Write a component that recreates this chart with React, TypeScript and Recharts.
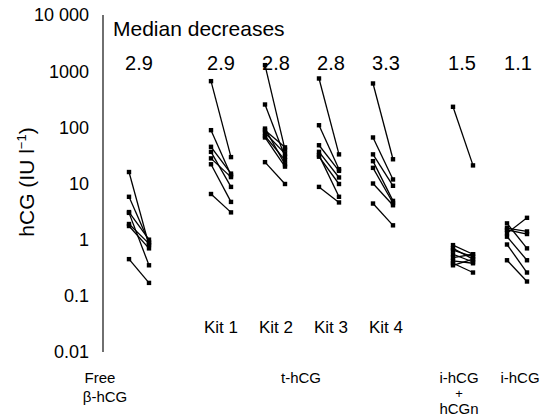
import React from "react";
import { ComposedChart, Line, XAxis, YAxis } from "recharts";

// x position of each group (before point); after point sits one unit right
const groupX = [1.3, 5.4, 8.1, 10.8, 13.5, 17.5, 20.2];
const groupNames = ["Free β-hCG", "Kit 1", "Kit 2", "Kit 3", "Kit 4", "i-hCG + hCGn", "i-hCG"];
const medianDecreases = ["2.9", "2.9", "2.8", "2.8", "3.3", "1.5", "1.1"];
const yTicks = [0.01, 0.1, 1, 10, 100, 1000, 10000];

// [before, after] pairs, IU/l
const freeBeta = [[16, 0.8], [5.8, 0.9], [3.1, 1.0], [3.0, 0.35], [1.9, 0.85], [1.75, 0.7], [0.45, 0.17]];
const kit1 = [[664, 29.5], [89, 14], [45, 15], [36.6, 8.7], [28, 13], [22, 4.7], [6.5, 3.06]];
const kit2 = [[1280, 40], [255, 30], [95, 22], [89, 44], [80, 34], [70, 26], [66, 20], [24, 9.8]];
const kit3 = [[741, 33], [109, 18], [48, 16.8], [36.6, 12.8], [32, 5.8], [30, 9.8], [8.7, 4.6]];
const kit4 = [[604, 27], [66, 11.8], [33, 9.1], [25, 4.9], [19, 4.5], [10, 4.1], [4.4, 1.8]];
const ihcgN = [[232, 21], [0.8, 0.55], [0.7, 0.45], [0.65, 0.5], [0.55, 0.4], [0.48, 0.55], [0.42, 0.38], [0.38, 0.26], [0.35, 0.45]];
const ihcg = [[1.95, 0.7], [1.6, 1.4], [1.5, 1.26], [1.3, 2.45], [1.13, 0.43], [0.82, 0.26], [0.43, 0.18]];

const groups = [freeBeta, kit1, kit2, kit3, kit4, ihcgN, ihcg];

const FONT = "'Liberation Sans', Arial, sans-serif";

const SquareDot = (props: any) => {
  const { cx, cy } = props;
  if (cx == null || cy == null) return null;
  return <rect x={cx - 2.2} y={cy - 2.2} width={4.4} height={4.4} fill="#000" />;
};

const fmtTick = (v: number) => (v === 10000 ? "10 000" : String(v));

const txt = (s: React.CSSProperties): React.CSSProperties => ({
  position: "absolute",
  fontFamily: FONT,
  color: "#000",
  whiteSpace: "nowrap",
  lineHeight: 1,
  ...s,
});

export default function App() {
  const numCenters = [139, 221, 276, 331, 386, 462, 518];
  const kitCenters = [221, 276, 331, 386];
  return (
    <div style={{ position: "absolute", left: 0, top: 0, width: 545, height: 417, background: "#fff" }}>
      <ComposedChart width={545} height={417} margin={{ top: 15, right: 0, bottom: 65, left: 0 }}>
        <XAxis
          type="number"
          dataKey="x"
          domain={[0, 22.1]}
          height={0}
          tick={false}
          tickLine={false}
          axisLine={{ stroke: "#222", strokeWidth: 1.3 }}
          allowDataOverflow
        />
        <YAxis
          type="number"
          scale="log"
          domain={[0.01, 10000]}
          ticks={yTicks}
          tickFormatter={fmtTick}
          allowDataOverflow
          width={103}
          tickLine={false}
          axisLine={{ stroke: "#222", strokeWidth: 1.3 }}
          tick={{ fill: "#000", fontSize: 18, fontFamily: FONT }}
          tickMargin={8}
        />
        {groups.map((pairs, g) =>
          pairs.map((p, i) => (
            <Line
              key={`g${g}-${i}`}
              data={[
                { x: groupX[g], v: p[0] },
                { x: groupX[g] + 1, v: p[1] },
              ]}
              dataKey="v"
              stroke="#000"
              strokeWidth={1.3}
              dot={<SquareDot />}
              activeDot={false}
              isAnimationActive={false}
              legendType="none"
            />
          ))
        )}
      </ComposedChart>

      <div style={txt({ left: 113, top: 18, fontSize: 21 })}>Median decreases</div>
      {medianDecreases.map((m, i) => (
        <div key={`m${i}`} style={txt({ left: numCenters[i], top: 53, fontSize: 20, transform: "translateX(-50%)" })}>
          {m}
        </div>
      ))}
      {groupNames.slice(1, 5).map((k, i) => (
        <div key={`k${i}`} style={txt({ left: kitCenters[i], top: 319, fontSize: 17, transform: "translateX(-50%)" })}>
          {k}
        </div>
      ))}

      <div style={txt({ left: 100, top: 370, fontSize: 15, transform: "translateX(-50%)" })}>Free</div>
      <div style={txt({ left: 105, top: 389, fontSize: 15, transform: "translateX(-50%)" })}>β-hCG</div>
      <div style={txt({ left: 301, top: 370, fontSize: 15, transform: "translateX(-50%)" })}>t-hCG</div>
      <div style={txt({ left: 459, top: 370, fontSize: 15, transform: "translateX(-50%)" })}>i-hCG</div>
      <div style={txt({ left: 459, top: 387, fontSize: 13, transform: "translateX(-50%)" })}>+</div>
      <div style={txt({ left: 459, top: 401, fontSize: 15, transform: "translateX(-50%)" })}>hCGn</div>
      <div style={txt({ left: 520, top: 370, fontSize: 15, transform: "translateX(-50%)" })}>i-hCG</div>

      <div
        style={txt({
          left: 26,
          top: 182,
          fontSize: 21,
          transform: "translate(-50%, -50%) rotate(-90deg)",
        })}
      >
        hCG (IU l<sup style={{ fontSize: 13 }}>−1</sup>)
      </div>
    </div>
  );
}
